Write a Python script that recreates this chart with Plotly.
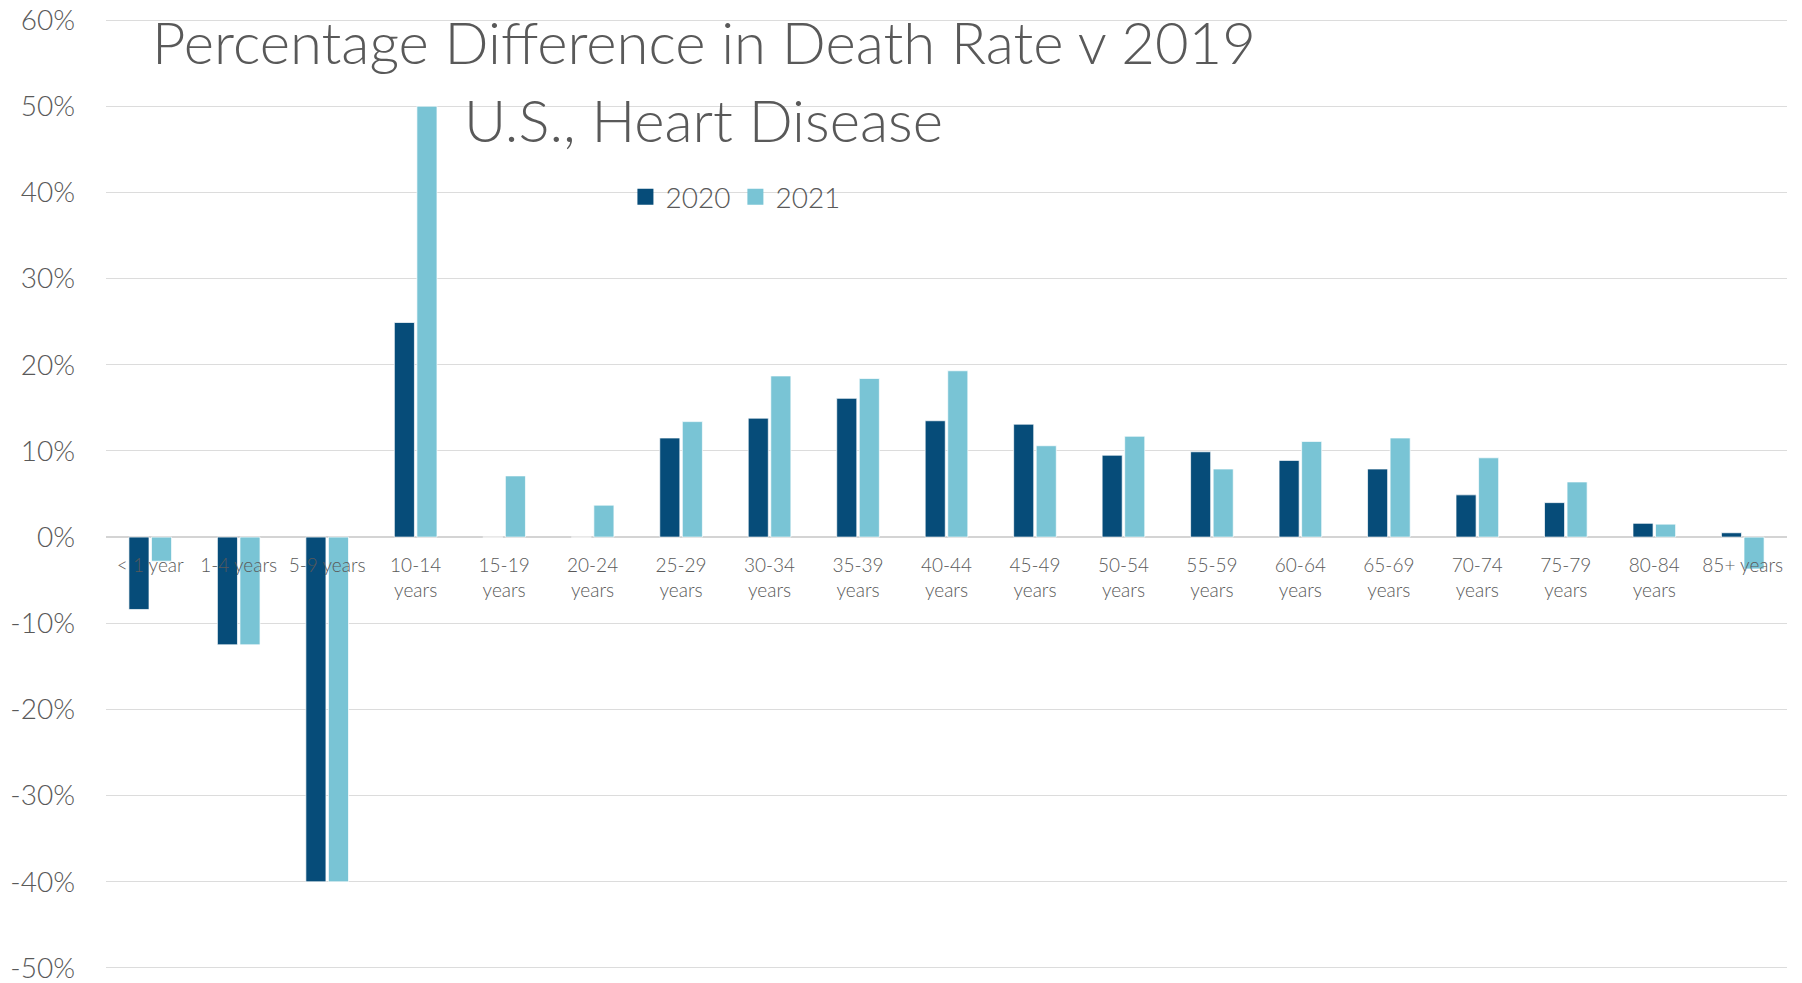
import plotly.graph_objects as go

# Age groups and percentage difference in death rate vs 2019
age_groups = ['< 1 year', '1-4 years', '5-9 years', '10-14 years', '15-19 years',
              '20-24 years', '25-29 years', '30-34 years', '35-39 years', '40-44 years',
              '45-49 years', '50-54 years', '55-59 years', '60-64 years', '65-69 years',
              '70-74 years', '75-79 years', '80-84 years', '85+ years']
tick_labels = ['< 1 year', '1-4 years', '5-9 years', '10-14<br>years', '15-19<br>years',
               '20-24<br>years', '25-29<br>years', '30-34<br>years', '35-39<br>years',
               '40-44<br>years', '45-49<br>years', '50-54<br>years', '55-59<br>years',
               '60-64<br>years', '65-69<br>years', '70-74<br>years', '75-79<br>years',
               '80-84<br>years', '85+ years']
diff_2020 = [-8.4, -12.5, -40.0, 24.9, 0.0, 0.0, 11.5, 13.8, 16.1, 13.5,
             13.1, 9.5, 9.9, 8.9, 7.9, 4.9, 4.0, 1.6, 0.5]
diff_2021 = [-2.8, -12.5, -40.0, 50.0, 7.1, 3.7, 13.4, 18.7, 18.4, 19.3,
             10.6, 11.7, 7.9, 11.1, 11.5, 9.2, 6.4, 1.5, -3.7]
y_ticks = [-50, -40, -30, -20, -10, 0, 10, 20, 30, 40, 50, 60]

# small pad so the end gridlines at -50% and 60% still get drawn
Y_MIN, Y_MAX = -50.12, 60.12
FONT = 'Lato'
TEXT_COLOR = '#595959'
COLORS = {'2020': '#064C79', '2021': '#79C4D5'}

fig = go.Figure()

for name, values in [('2020', diff_2020), ('2021', diff_2021)]:
    fig.add_trace(go.Bar(
        x=age_groups,
        y=values,
        name=name,
        showlegend=False,
        marker=dict(color=COLORS[name], line=dict(color='rgba(255,255,255,0.7)', width=1)),
    ))

# legend-only entries so the swatches can be bigger squares
for name in ['2020', '2021']:
    fig.add_trace(go.Scatter(
        x=[None],
        y=[None],
        name=name,
        mode='markers',
        marker=dict(symbol='square', size=17, color=COLORS[name]),
    ))

# plot area on screen: x 106..1787, y 19..969
fig.update_layout(
    width=1802,
    height=983,
    margin=dict(l=106, r=15, t=19, b=14, autoexpand=False),
    plot_bgcolor='white',
    paper_bgcolor='white',
    barmode='group',
    bargap=0.49,
    bargroupgap=0.11,
    font=dict(family=FONT, color=TEXT_COLOR),
    showlegend=True,
    legend=dict(
        orientation='h',
        x=0.309,
        xanchor='left',
        y=0.8126,
        yanchor='middle',
        font=dict(size=28, color=TEXT_COLOR, weight=300),
        bgcolor='rgba(0,0,0,0)',
        itemwidth=30,
    ),
    xaxis=dict(
        type='category',
        tickvals=age_groups,
        ticktext=tick_labels,
        anchor='free',
        # put the category labels on the zero line
        position=(0 - Y_MIN) / (Y_MAX - Y_MIN),
        automargin=False,
        showline=False,
        showgrid=False,
        ticks='',
        ticklabelstandoff=15,
        tickfont=dict(size=19, color=TEXT_COLOR, weight=300),
        tickangle=0,
    ),
    yaxis=dict(
        range=[Y_MIN, Y_MAX],
        tickvals=y_ticks,
        ticktext=[f'{v}%' for v in y_ticks],
        automargin=False,
        ticklabeloverflow='allow',
        showgrid=True,
        gridcolor='#DCDCDC',
        gridwidth=1,
        zeroline=True,
        zerolinecolor='#D4D4D4',
        zerolinewidth=2,
        ticks='',
        ticklabelstandoff=30,
        tickfont=dict(size=28, color=TEXT_COLOR, weight=300),
    ),
    annotations=[
        dict(text='Percentage Difference in Death Rate v 2019',
             xref='paper', yref='paper', x=0.3557, y=0.9758,
             xanchor='center', yanchor='middle', showarrow=False,
             font=dict(size=58, color=TEXT_COLOR, family=FONT, weight=300)),
        dict(text='U.S., Heart Disease',
             xref='paper', yref='paper', x=0.3557, y=0.8937,
             xanchor='center', yanchor='middle', showarrow=False,
             font=dict(size=58, color=TEXT_COLOR, family=FONT, weight=300)),
    ],
)

# drop the default page margin so the figure fills the window exactly
fig.write_html(
    "out.html",
    config={'displayModeBar': False},
    post_script="document.body.style.margin='0';",
)
